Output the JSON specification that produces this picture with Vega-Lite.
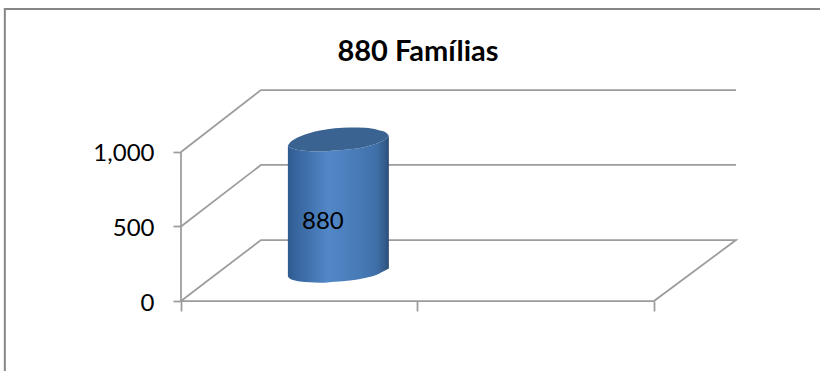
{
  "$schema": "https://vega.github.io/schema/vega-lite/v6.json",
  "width": 555,
  "height": 211,
  "padding": {"left": 181, "top": 90, "right": 84, "bottom": 70},
  "autosize": {"type": "none"},
  "background": "white",
  "config": {"view": {"stroke": null}},
  "datasets": {
    "frame": [{"left": -0.745, "right": 3.0, "bottom": -600, "top": 1960}],
    "walls": [
      {"level": "0", "step": 1, "pos": 0, "fam": 0},
      {"level": "0", "step": 2, "pos": 0.338, "fam": 409},
      {"level": "0", "step": 3, "pos": 2.347, "fam": 409},
      {"level": "0", "step": 4, "pos": 2, "fam": 0},
      {"level": "0", "step": 5, "pos": 0, "fam": 0},
      {"level": "500", "step": 1, "pos": 0, "fam": 500},
      {"level": "500", "step": 2, "pos": 0.338, "fam": 913},
      {"level": "500", "step": 3, "pos": 2.347, "fam": 913},
      {"level": "1000", "step": 1, "pos": 0, "fam": 1000},
      {"level": "1000", "step": 2, "pos": 0.338, "fam": 1416},
      {"level": "1000", "step": 3, "pos": 2.347, "fam": 1416},
      {"level": "axis", "step": 1, "pos": 0, "fam": 0},
      {"level": "axis", "step": 2, "pos": 0, "fam": 1000}
    ],
    "cylinder": [
      {"pos": 0.452, "base": 164, "top": 1044, "capLow": 1044, "capHigh": 1044},
      {"pos": 0.461, "base": 150, "top": 1030, "capLow": 1030, "capHigh": 1064},
      {"pos": 0.478, "base": 140, "top": 1020, "capLow": 1020, "capHigh": 1084},
      {"pos": 0.503, "base": 131, "top": 1011, "capLow": 1011, "capHigh": 1104},
      {"pos": 0.545, "base": 125, "top": 1005, "capLow": 1005, "capHigh": 1128},
      {"pos": 0.588, "base": 123, "top": 1003, "capLow": 1003, "capHigh": 1144},
      {"pos": 0.651, "base": 130, "top": 1010, "capLow": 1010, "capHigh": 1159},
      {"pos": 0.715, "base": 138, "top": 1018, "capLow": 1018, "capHigh": 1164},
      {"pos": 0.778, "base": 154, "top": 1034, "capLow": 1034, "capHigh": 1162},
      {"pos": 0.833, "base": 180, "top": 1060, "capLow": 1060, "capHigh": 1148},
      {"pos": 0.863, "base": 204, "top": 1084, "capLow": 1084, "capHigh": 1134},
      {"pos": 0.875, "base": 214, "top": 1101, "capLow": 1101, "capHigh": 1117},
      {"pos": 0.879, "base": 218, "top": 1107, "capLow": 1107, "capHigh": 1107}
    ],
    "label": [{"pos": 0.6, "at": 530, "familias": 880}],
    "heading": [{"pos": 1.002, "at": 1671, "text": "880 Famílias"}]
  },
  "layer": [
    {
      "data": {"name": "frame"},
      "mark": {"type": "rect", "fill": null, "stroke": "#868686", "strokeWidth": 2, "clip": false},
      "encoding": {
        "x": {
          "field": "left",
          "type": "quantitative",
          "scale": {"domain": [0, 2.347], "nice": false, "zero": false},
          "axis": {
            "title": null,
            "values": [0, 1, 2],
            "labels": false,
            "domain": false,
            "grid": false,
            "tickSize": 10,
            "tickColor": "#9c9c9c",
            "tickWidth": 1.75
          }
        },
        "x2": {"field": "right"},
        "y": {
          "field": "bottom",
          "type": "quantitative",
          "scale": {"domain": [0, 1416], "nice": false, "zero": false},
          "axis": {
            "title": null,
            "values": [0, 500, 1000],
            "format": ",.0f",
            "domain": false,
            "grid": false,
            "tickSize": 8,
            "tickColor": "#9c9c9c",
            "tickWidth": 1.75,
            "labelFont": "Lato",
            "labelFontSize": 24,
            "labelColor": "#000000",
            "labelPadding": 19,
            "labelOffset": 2
          }
        },
        "y2": {"field": "top"}
      }
    },
    {
      "data": {"name": "walls"},
      "mark": {"type": "line", "stroke": "#9c9c9c", "strokeWidth": 1.75},
      "encoding": {
        "x": {"field": "pos", "type": "quantitative"},
        "y": {"field": "fam", "type": "quantitative"},
        "detail": {"field": "level"},
        "order": {"field": "step", "type": "ordinal"}
      }
    },
    {
      "data": {"name": "cylinder"},
      "mark": {
        "type": "area",
        "interpolate": "monotone",
        "fill": {
          "gradient": "linear",
          "x1": 0, "y1": 0, "x2": 1, "y2": 0,
          "stops": [
            {"offset": 0, "color": "#2f5b90"},
            {"offset": 0.12, "color": "#3a69a3"},
            {"offset": 0.4, "color": "#5287c7"},
            {"offset": 0.72, "color": "#4679b5"},
            {"offset": 0.88, "color": "#3f6fa8"},
            {"offset": 0.96, "color": "#345c8c"},
            {"offset": 1, "color": "#2b4c75"}
          ]
        }
      },
      "encoding": {
        "x": {"field": "pos", "type": "quantitative"},
        "y": {"field": "base", "type": "quantitative"},
        "y2": {"field": "top"}
      }
    },
    {
      "data": {"name": "cylinder"},
      "mark": {"type": "area", "interpolate": "monotone", "fill": "#3b6391"},
      "encoding": {
        "x": {"field": "pos", "type": "quantitative"},
        "y": {"field": "capLow", "type": "quantitative"},
        "y2": {"field": "capHigh"}
      }
    },
    {
      "data": {"name": "label"},
      "mark": {"type": "text", "font": "Lato", "fontSize": 24, "color": "#000000", "align": "center", "baseline": "middle"},
      "encoding": {
        "x": {"field": "pos", "type": "quantitative"},
        "y": {"field": "at", "type": "quantitative"},
        "text": {"field": "familias", "type": "quantitative"}
      }
    },
    {
      "data": {"name": "heading"},
      "mark": {"type": "text", "font": "Lato", "fontSize": 29, "fontWeight": "bold", "color": "#000000", "align": "center", "baseline": "middle", "clip": false},
      "encoding": {
        "x": {"field": "pos", "type": "quantitative"},
        "y": {"field": "at", "type": "quantitative"},
        "text": {"field": "text", "type": "nominal"}
      }
    }
  ]
}
